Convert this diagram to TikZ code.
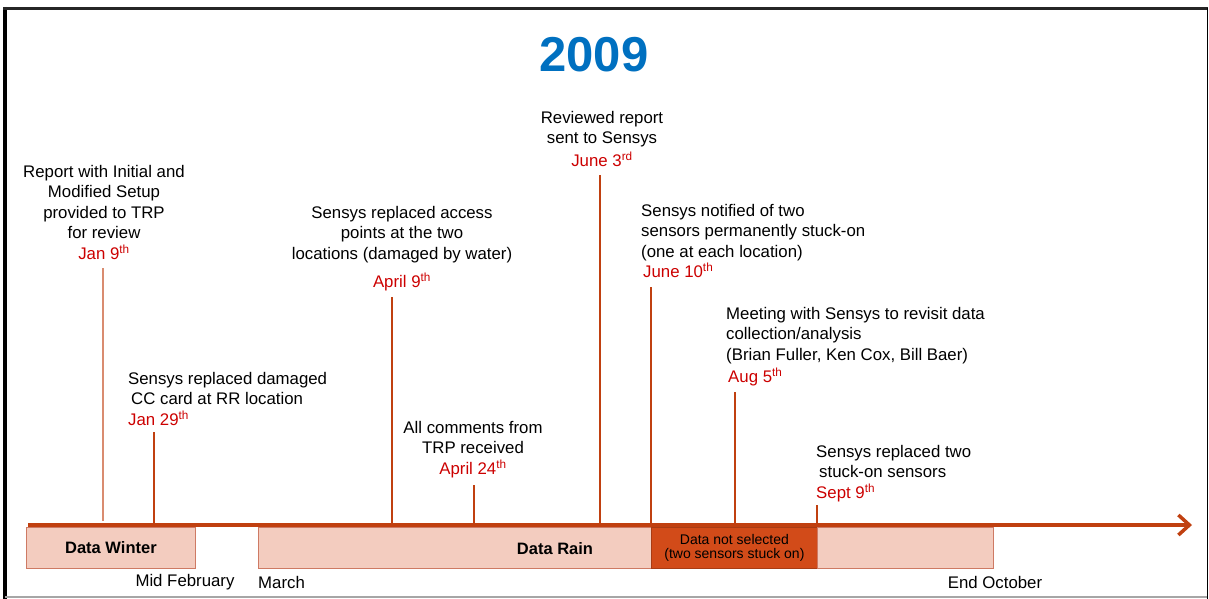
\documentclass[tikz,border=0pt]{standalone}
\usepackage{fontspec}
\setmainfont{Liberation Sans}
\usepackage{xcolor}
\usepackage{tikz}
\usetikzlibrary{arrows.meta}

\definecolor{yearblue}{RGB}{0,112,192}
\definecolor{axisbrown}{RGB}{192,64,16}
\definecolor{datered}{RGB}{204,0,0}
\definecolor{barfill}{RGB}{243,204,191}
\definecolor{barline}{RGB}{206,122,100}
\definecolor{notsel}{RGB}{210,75,25}

\newcommand{\evdate}[2]{\textcolor{datered}{#1\textsuperscript{#2}}}

\begin{document}
\begin{tikzpicture}[
    x=1pt, y=-1pt,
    event/.style={inner sep=0pt, font=\fontsize{16.8}{20.5}\selectfont, align=center, anchor=north},
    eventleft/.style={event, align=left, anchor=north west},
    tick/.style={draw=axisbrown, line width=2pt},
    bar/.style={rectangle, draw=barline, fill=barfill, line width=0.8pt, inner sep=0pt, anchor=north west, minimum height=41pt},
    month/.style={inner sep=0pt, font=\fontsize{16.8}{18}\selectfont},
    axis/.style={draw=axisbrown, line width=4pt, -{Straight Barb[length=11pt, width=20pt, line width=3.5pt]}}
]
\useasboundingbox (0,0) rectangle (1209,599);

% Cadre
\draw[black, line width=4pt] (5,7) -- (5,599);
\draw[black!85, line width=3pt] (3,8.5) -- (1208,8.5);
\draw[black, line width=1pt] (1207,8) -- (1207,599);
\draw[black!35, line width=1.5pt] (5,597) -- (1207,597);

% Titre
\node[font=\fontsize{49}{54}\selectfont\bfseries, text=yearblue] (year) at (594,55) {2009};

% Periodes
\node[bar, minimum width=169pt] (winter) at (26,527) {};
\node[font=\fontsize{16.5}{18}\selectfont\bfseries] at (winter.center) {Data Winter};
\node[bar, minimum width=393pt] (rain) at (258,527) {};
\node[font=\fontsize{16.5}{18}\selectfont\bfseries, inner sep=0pt] (rainlabel) at (555,549) {Data Rain};
\node[bar, fill=notsel, draw=notsel!80!black, minimum width=166pt, align=center,
      font=\fontsize{14}{14.5}\selectfont] (notselected) at (651,527) {Data not selected\\(two sensors stuck on)};
\node[bar, minimum width=176pt] (rainend) at (817,527) {};

% Axe du temps
\coordinate (axstart) at (28,525);
\coordinate (axend) at (1192,525);
\draw[axis] (axstart) -- (axend);

% Mois
\node[month] (midfeb) at (185,582) {Mid February};
\node[month, anchor=west] (march) at (258,582) {March};
\node[month] (endoct) at (995,582) {End October};

% Evenements
\node[event] (jan9) at (104,165) {Report with Initial and\\Modified Setup\\provided to TRP\\for review\\\evdate{Jan 9}{th}};
\node[eventleft] (jan29) at (128,372) {Sensys replaced damaged\\\hspace{3pt}CC card at RR location\\\evdate{Jan 29}{th}};
\node[event] (apr9) at (402,206) {Sensys replaced access\\points at the two\\locations (damaged by water)\\[8pt]\evdate{April 9}{th}};
\node[event] (apr24) at (473,421) {All comments from\\TRP received\\\evdate{April 24}{th}};
\node[event] (jun3) at (602,111) {Reviewed report\\sent to Sensys\\[2pt]\evdate{June 3}{rd}};
\node[eventleft] (jun10) at (641,204) {Sensys notified of two\\sensors permanently stuck-on\\(one at each location)\\\hspace{2pt}\evdate{June 10}{th}};
\node[eventleft] (aug5) at (726,307) {Meeting with Sensys to revisit data\\collection/analysis\\(Brian Fuller, Ken Cox, Bill Baer)\\[2pt]\hspace{2pt}\evdate{Aug 5}{th}};
\node[eventleft] (sep9) at (816,445) {Sensys replaced two\\\hspace{3pt}stuck-on sensors\\\evdate{Sept 9}{th}};

% Reperes
\coordinate (t1) at (103,268);
\coordinate (t2) at (154,432);
\coordinate (t3) at (392,297);
\coordinate (t4) at (474,485);
\coordinate (t5) at (600,175);
\coordinate (t6) at (651,287);
\coordinate (t7) at (735,392);
\coordinate (t8) at (817,505);
\draw[tick, draw=axisbrown!60, line width=1.3pt] (t1) -- (t1 |- 0,521);
\draw[tick] (t2) -- (t2 |- axstart);
\draw[tick] (t3) -- (t3 |- axstart);
\draw[tick] (t4) -- (t4 |- axstart);
\draw[tick] (t5) -- (t5 |- axstart);
\draw[tick] (t6) -- (t6 |- axstart);
\draw[tick] (t7) -- (t7 |- axstart);
\draw[tick] (t8) -- (t8 |- axstart);

\end{tikzpicture}
\end{document}
